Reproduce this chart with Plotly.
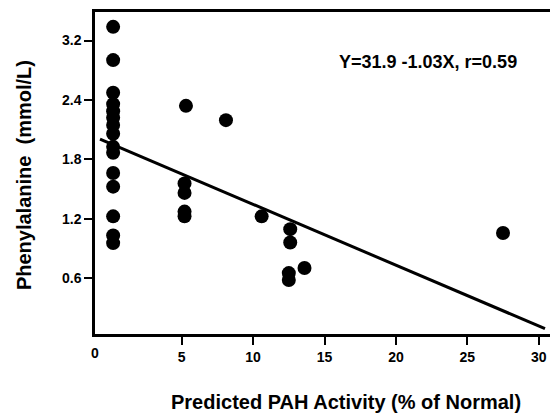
import plotly.graph_objects as go

# Predicted PAH activity (% of normal)
pah_activity = [0.2] * 15 + [5.2, 5.2, 5.2, 5.2, 5.3, 8.1, 10.6,
                             12.6, 12.6, 12.5, 12.5, 13.6, 27.5]
# Phenylalanine, mg/dL (axis ticks labelled in mmol/L)
phe_mgdl = [52.3, 46.7, 41.2, 39.3, 38.1, 37.0, 35.8, 34.3, 32.1, 31.1,
            27.7, 25.4, 20.4, 17.2, 15.9,
            25.95, 24.35, 21.2, 20.4, 39.0, 36.6, 20.4,
            18.25, 16.0, 10.85, 9.7, 11.7, 17.6]

# Regression line end points as drawn
fit_x = [-0.72, 30.44]
fit_y = [33.4, 1.5]

y_tickvals = [10, 20, 30, 40, 50]
y_ticktext = ["0.6", "1.2", "1.8", "2.4", "3.2"]
x_tickvals = [5, 10, 15, 20, 25, 30]
x_ticktext = ["5", "10", "15", "20", "25", "30"]

x_range = [-1.07, 31.35]
y_range = [0.6, 54.8]

FONT = "Liberation Sans, Arial, Helvetica, sans-serif"

fig = go.Figure()
fig.add_trace(go.Scatter(x=fit_x, y=fit_y, mode="lines",
                         line=dict(color="black", width=3),
                         hoverinfo="skip", showlegend=False))
fig.add_trace(go.Scatter(x=pah_activity, y=phe_mgdl, mode="markers",
                         marker=dict(color="black", size=14, line=dict(width=0)),
                         showlegend=False))

axis_font = dict(family=FONT, size=14, color="black", weight="bold")

# page body has an 8px margin: figure is 550x407 so it ends at the window edge
fig.update_layout(
    width=550, height=407,
    margin=dict(l=87, r=0, t=4, b=81, pad=0),
    paper_bgcolor="white", plot_bgcolor="white",
    xaxis=dict(range=x_range, tickvals=x_tickvals, ticktext=x_ticktext,
               showgrid=False, zeroline=False, showline=True, linecolor="black",
               linewidth=2.5, mirror=True, ticks="outside", ticklen=8,
               tickwidth=2, tickcolor="black", tickfont=axis_font),
    yaxis=dict(range=y_range, tickvals=y_tickvals, ticktext=y_ticktext,
               showgrid=False, zeroline=False, showline=True, linecolor="black",
               linewidth=2.5, ticks="outside", ticklen=8, tickwidth=2,
               tickcolor="black", tickfont=axis_font),
    annotations=[
        dict(text="0", x=x_range[0], xref="x", y=0, yref="paper",
             yshift=-19, showarrow=False, font=axis_font,
             xanchor="center", yanchor="middle"),
        dict(text="Predicted PAH Activity (% of Normal)", x=0.543, y=-0.21,
             xref="paper", yref="paper", showarrow=False,
             xanchor="center", yanchor="middle",
             font=dict(family=FONT, size=20, color="black", weight="bold")),
        dict(text="Phenylalanine  (mmol/L)", x=-0.153, y=0.494,
             xref="paper", yref="paper", showarrow=False, textangle=-90,
             xanchor="center", yanchor="middle",
             font=dict(family=FONT, size=20, color="black", weight="bold")),
        dict(text="Y=31.9 -1.03X, r=0.59", x=0.719, y=0.844,
             xref="paper", yref="paper", showarrow=False,
             xanchor="center", yanchor="middle",
             font=dict(family=FONT, size=18, color="black", weight="bold")),
    ],
)

fig.write_html("out.html")
